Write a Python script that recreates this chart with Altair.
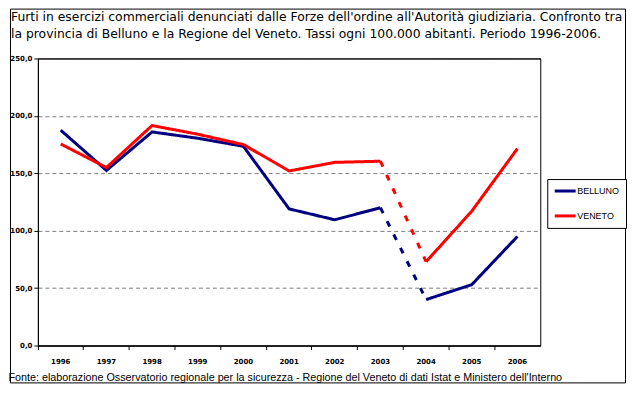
import altair as alt
import pandas as pd

years = [str(y) for y in range(1996, 2007)]
belluno = [187.5, 152.5, 186.0, 180.5, 173.5, 119.0, 109.5, 120.0, 40.0, 53.0, 95.0]
veneto = [175.5, 155.0, 191.6, 184.0, 175.0, 152.0, 159.5, 160.5, 73.0, 117.0, 171.5]
series_names = ["BELLUNO", "VENETO"]
series_colors = ["#000080", "#FF0000"]
y_ticks = [0, 50, 100, 150, 200, 250]

title_lines = [
    "Furti in esercizi commerciali denunciati dalle Forze dell'ordine all'Autorità giudiziaria. Confronto tra",
    "la provincia di Belluno e la Regione del Veneto. Tassi ogni 100.000 abitanti. Periodo 1996-2006.",
]
footer = ("Fonte: elaborazione Osservatorio regionale per la sicurezza - Regione del Veneto "
          "di dati Istat e Ministero dell'Interno")

# break the 2003-2004 stretch into a dashed segment
rows = []
for name, vals in zip(series_names, [belluno, veneto]):
    for i, (yr, v) in enumerate(zip(years, vals)):
        if i <= 7:
            rows.append(dict(series=name, year=yr, value=v, seg="a", style="solid"))
        if 7 <= i <= 8:
            rows.append(dict(series=name, year=yr, value=v, seg="b", style="dashed"))
        if i >= 8:
            rows.append(dict(series=name, year=yr, value=v, seg="c", style="solid"))
df = pd.DataFrame(rows)

is_edge = "datum.value == 0 || datum.value == 250"

lines = alt.Chart(df).mark_line(strokeWidth=3).encode(
    x=alt.X(
        "year:O",
        scale=alt.Scale(type="band", domain=years, paddingInner=0, paddingOuter=0),
        axis=alt.Axis(
            bandPosition=0,
            title=footer,
            titleFont="Liberation Sans",
            titleFontSize=10.8,
            titleFontWeight="normal",
            titleColor="black",
            titleAnchor="start",
            titleAlign="left",
            titleBaseline="alphabetic",
            titleX=-30,
            titleY=35,
            labelAngle=0,
            labelFont="DejaVu Sans",
            labelFontWeight="bold",
            labelFontSize=7,
            labelColor="black",
            labelPadding=8,
            tickColor="black",
            tickSize=4,
            domainColor="black",
            grid=False,
        ),
    ),
    y=alt.Y(
        "value:Q",
        scale=alt.Scale(domain=[0, 250], nice=False),
        axis=alt.Axis(
            values=y_ticks,
            title=None,
            labelExpr="replace(format(datum.value, '.1f'), '.', ',')",
            labelFont="DejaVu Sans",
            labelFontWeight="bold",
            labelFontSize=7,
            labelColor="black",
            labelPadding=2,
            tickColor="black",
            tickSize=4,
            domainColor="black",
            grid=True,
            gridColor={"condition": {"test": is_edge, "value": "black"}, "value": "#808080"},
            gridDash={"condition": {"test": is_edge, "value": [1, 0]}, "value": [4, 3]},
        ),
    ),
    color=alt.Color(
        "series:N",
        scale=alt.Scale(domain=series_names, range=series_colors),
        legend=alt.Legend(
            title=None,
            orient="none",
            legendX=511,
            legendY=121,
            symbolType="M-2.333,0H2.333",
            symbolStrokeWidth=3,
            symbolSize=81,
            symbolOffset=6,
            labelFont="Liberation Sans",
            labelFontSize=9,
            labelColor="black",
            labelOffset=6,
            rowPadding=13,
            padding=6,
            strokeColor="black",
            fillColor="white",
        ),
    ),
    strokeDash=alt.StrokeDash(
        "style:N",
        scale=alt.Scale(domain=["solid", "dashed"], range=[[1, 0], [6, 9]]),
        legend=None,
    ),
    detail="seg:N",
)

frame = alt.Chart(pd.DataFrame({"f": [0]})).mark_rect(
    filled=False, stroke="black", strokeWidth=1
).encode(
    x=alt.value(-27.5), x2=alt.value(589.5), y=alt.value(-49.5), y2=alt.value(325.5)
)

chart = alt.layer(lines, frame).properties(
    width=504,
    height=288,
    padding=0,
    background="white",
    title=alt.TitleParams(
        text=title_lines,
        anchor="start",
        frame="group",
        dx=-27,
        offset=-32,
        font="DejaVu Sans",
        fontSize=12.4,
        fontWeight="normal",
        color="black",
        lineHeight=17,
    ),
).configure_view(stroke="black", strokeWidth=1)

chart.save("out.html", embed_options={"renderer": "svg", "actions": False})
